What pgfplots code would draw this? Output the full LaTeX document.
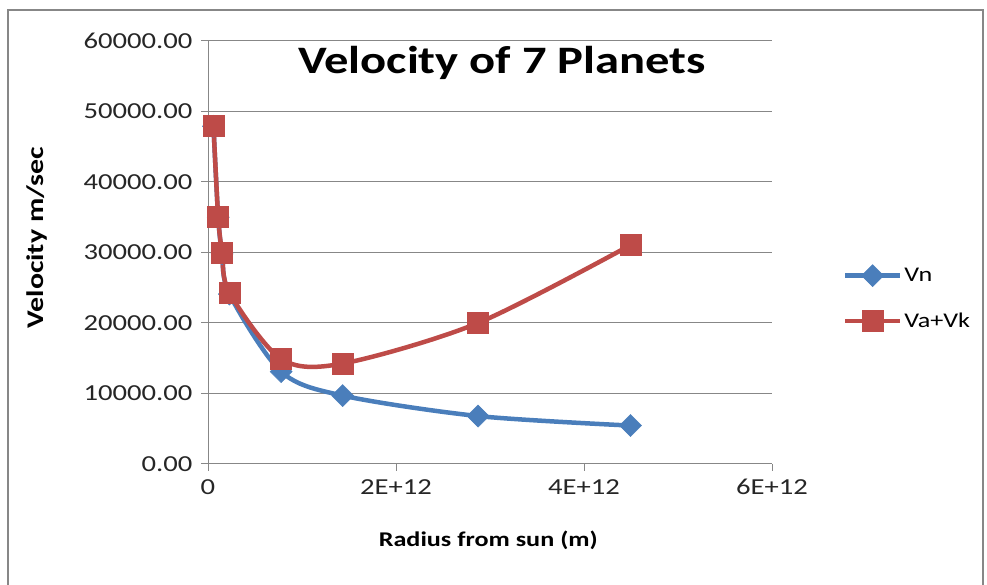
\documentclass[border=0pt]{standalone}
\usepackage{fontspec}
\setmainfont{Carlito}[FakeStretch=1.25]
\usepackage{pgfplots}
\pgfplotsset{compat=1.18}
\definecolor{vnblue}{HTML}{4A7EBB}
\definecolor{vkred}{HTML}{BE4B48}
\definecolor{gridgrey}{HTML}{878787}
\begin{document}
\begin{tikzpicture}[x=1bp,y=1bp]
\path[use as bounding box] (0,0) rectangle (987,585);
\draw[gridgrey,line width=2bp] (8,0) -- (8,575) -- (983,575) -- (983,0);
\begin{axis}[
  at={(208bp,121bp)}, anchor=south west,
  scale only axis, width=564bp, height=423bp,
  xmin=0, xmax=6e12, ymin=0, ymax=60000,
  xtick={0,2e12,4e12,6e12},
  xticklabels={0,2E+12,4E+12,6E+12},
  ytick={0,10000,...,60000},
  scaled x ticks=false, scaled y ticks=false,
  yticklabel style={/pgf/number format/fixed, /pgf/number format/fixed zerofill,
    /pgf/number format/precision=2, /pgf/number format/1000 sep={},
    /pgf/number format/assume math mode=true},
  ticklabel style={font=\fontsize{23}{27}\selectfont, text=black!85},
  xticklabel style={yshift=-5bp},
  yticklabel style={xshift=-5bp},
  axis lines*=left,
  axis line style={gridgrey, line width=1bp, -},
  tick style={gridgrey, line width=1bp},
  tick align=outside,
  major tick length=7bp,
  ymajorgrids, grid style={gridgrey, line width=1bp},
  xlabel={\textbf{Radius from sun (m)}},
  ylabel={\textbf{Velocity m/sec}},
  label style={font=\fontsize{21}{25}\selectfont},
  x label style={at={(axis description cs:0.497,-0.18)}, anchor=center},
  y label style={at={(axis description cs:-0.303,0.535)}, anchor=center, rotate=0,
    font=\fontsize{24}{28}\selectfont},
  legend style={at={(rel axis cs:1.12,0.392)}, anchor=west, draw=none, fill=none,
    font=\fontsize{21}{25}\selectfont, row sep=24bp,
    /tikz/every even column/.append style={column sep=2bp}},
  legend cell align=left,
  legend image code/.code={
    \draw[#1, mark=none] (0bp,0bp) -- (55bp,0bp);
    \draw[#1, only marks] plot coordinates {(27.5bp,0bp)};
  },
  clip=false,
]
\addplot[vnblue, line width=4.5bp, smooth, tension=0.5,
  mark=square*, mark size=7.8bp, mark options={rotate=45, line width=0.5bp, fill=vnblue}]
  coordinates {
  (5.79e10,47900) (1.082e11,35000) (1.496e11,29800) (2.279e11,24100)
  (7.786e11,13100) (1.433e12,9700) (2.873e12,6800) (4.495e12,5450)
  };
\addlegendentry{Vn}
\addplot[vkred, line width=4.5bp, smooth, tension=0.5,
  mark=square*, mark size=10.5bp, mark options={line width=0.5bp, fill=vkred}]
  coordinates {
  (5.79e10,48000) (1.082e11,35100) (1.496e11,30000) (2.279e11,24300)
  (7.786e11,14900) (1.433e12,14250) (2.873e12,20000) (4.495e12,31050)
  };
\addlegendentry{Va+Vk}
\end{axis}
\node[font=\fontsize{39}{45}\selectfont\bfseries, anchor=center] at (502,522) {Velocity of 7 Planets};
\end{tikzpicture}
\end{document}
